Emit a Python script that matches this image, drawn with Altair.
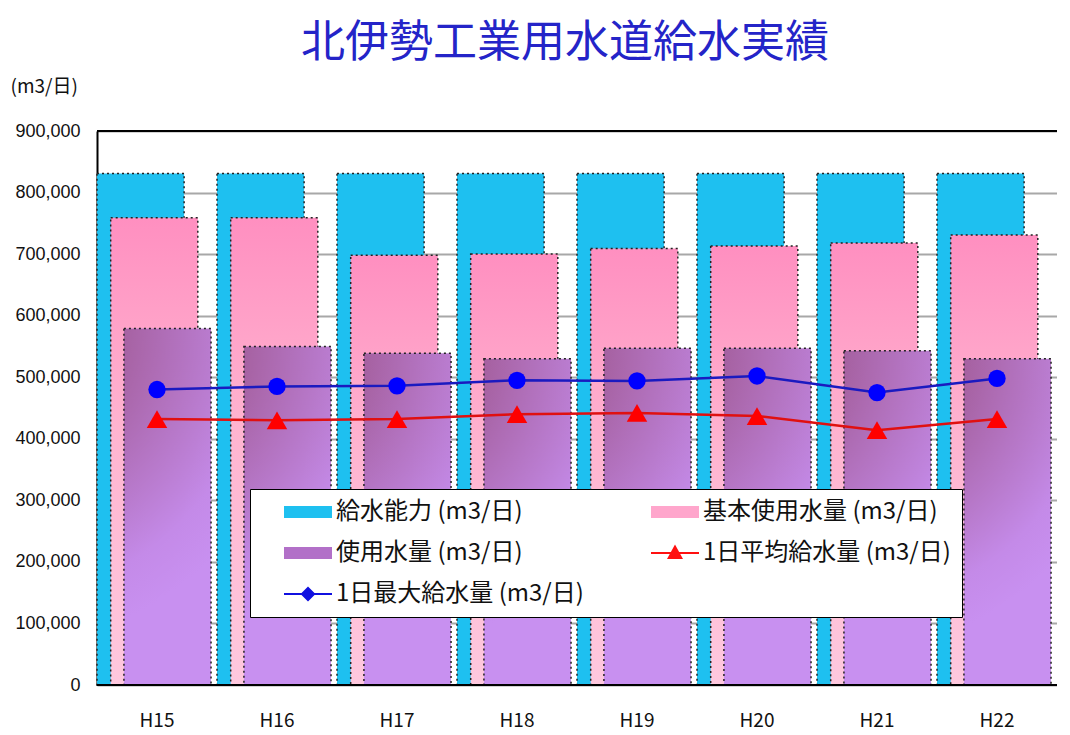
import altair as alt
import pandas as pd

# ---- data ----
years = ["H15", "H16", "H17", "H18", "H19", "H20", "H21", "H22"]
capacity = [831000, 831000, 831000, 831000, 831000, 831000, 831000, 831000]
base_use = [759000, 759000, 698000, 700000, 709000, 713000, 718000, 731000]
used = [579000, 550000, 539000, 530000, 547000, 547000, 543000, 530000]
daily_max = [480000, 485000, 486000, 495000, 494000, 502000, 475000, 498000]
daily_avg = [432000, 430000, 432000, 440000, 442000, 437000, 414000, 432000]
y_ticks = [0, 100000, 200000, 300000, 400000, 500000, 600000, 700000, 800000, 900000]

# legend entries (column-major: left column first, then right column)
series = ["給水能力 (m3/日)", "使用水量 (m3/日)", "1日最大給水量 (m3/日)",
          "基本使用水量 (m3/日)", "1日平均給水量 (m3/日)"]
series_colors = ["#1ec0f0", "#b270c8", "#1010e0", "#ffa6cc", "#ff1010"]

df = pd.DataFrame({"year": years, "capacity": capacity, "base": base_use,
                   "used": used, "dmax": daily_max, "davg": daily_avg})
legend_df = pd.DataFrame({"series": series, "year": [years[0]] * len(series),
                          "v": [None] * len(series)})

# ---- layout ----
W, H = 960, 554
BW = W / len(years)
BAR_FRAC = 89 / 122.6
shift = (BW - BW * BAR_FRAC) / 2
off_cyan = 0 - shift
off_pink = 14 / 122.6 * BW - shift
off_purple = 27.5 / 122.6 * BW - shift

FONT = "Noto Sans CJK JP"

x_enc = alt.X("year:N", sort=years,
              scale=alt.Scale(domain=years, paddingInner=0, paddingOuter=0),
              axis=alt.Axis(title=None, labelAngle=0, ticks=False, domain=False,
                            labelPadding=26, labelFontSize=19, labelFont=FONT,
                            labelColor="#111", grid=False))
y_axis = alt.Axis(values=y_ticks, labelExpr="format(datum.value, ',')",
                  title="(m3/日)", titleAngle=0,
                  titleX=-87, titleY=-45, titleAlign="left", titleBaseline="middle",
                  titleFont=FONT, titleFontSize=19, titleFontWeight="normal",
                  titleColor="#111", grid=True, gridColor="#a8a8a8", gridWidth=2,
                  domainColor="black", domainWidth=2, ticks=False, labelPadding=17,
                  labelFontSize=18, labelFont="Liberation Sans", labelColor="#111")
y_scale = alt.Scale(domain=[0, 900000], nice=False)

def y_enc(field):
    return alt.Y(f"{field}:Q", scale=y_scale, axis=y_axis)

pink_grad = alt.Gradient(gradient="linear",
                         stops=[alt.GradientStop(color="#ff8fc0", offset=0),
                                alt.GradientStop(color="#ffb4d0", offset=0.45),
                                alt.GradientStop(color="#ffc8de", offset=1)],
                         x1=0, y1=0, x2=0, y2=1)
purple_grad = alt.Gradient(gradient="radial",
                           stops=[alt.GradientStop(color="#76264f", offset=0),
                                  alt.GradientStop(color="#a5609f", offset=0.4),
                                  alt.GradientStop(color="#c48ae8", offset=0.85),
                                  alt.GradientStop(color="#c890f0", offset=1)],
                           x1=0, y1=0, r1=0, x2=0, y2=0, r2=0.9)

border = dict(stroke="#222", strokeWidth=1.5, strokeDash=[2, 3])

base = alt.Chart(df)

cyan = base.mark_bar(width=alt.RelativeBandSize(BAR_FRAC), xOffset=off_cyan,
                     color="#1ec0f0", **border).encode(x=x_enc, y=y_enc("capacity"))
pink = base.mark_bar(width=alt.RelativeBandSize(BAR_FRAC), xOffset=off_pink,
                     fill=pink_grad, **border).encode(x=x_enc, y=y_enc("base"))
purple = base.mark_bar(width=alt.RelativeBandSize(BAR_FRAC), xOffset=off_purple,
                       fill=purple_grad, **border).encode(x=x_enc, y=y_enc("used"))

max_line = base.mark_line(color="#1a1ac0", strokeWidth=2.5).encode(x=x_enc, y=y_enc("dmax"))
max_pts = base.mark_point(shape="circle", filled=True, size=300, color="#0000ff",
                          opacity=1).encode(x=x_enc, y=y_enc("dmax"))
avg_line = base.mark_line(color="#e01010", strokeWidth=2.5).encode(x=x_enc, y=y_enc("davg"))
avg_pts = base.mark_point(shape="triangle-up", filled=True, size=420, color="#ff0000",
                          opacity=1).encode(x=x_enc, y=y_enc("davg"))

frame = alt.Chart(pd.DataFrame({"v": [0, 900000]})).mark_rule(
    color="black", strokeWidth=2).encode(y=y_enc("v"))

bar_path = "M-2.4,-0.6H2.4V0.6H-2.4Z"
tri_path = "M-2.4,-0.1H2.4V0.1H-2.4Z M0,-0.85L0.8,0.6H-0.8Z"
dia_path = "M-2.4,-0.1H2.4V0.1H-2.4Z M0,-0.75L0.75,0L0,0.75L-0.75,0Z"

leg = alt.Legend(title=None, orient="none", legendX=153, legendY=358, columns=2,
                 fillColor="white", strokeColor="black", padding=11,
                 symbolSize=400, symbolOffset=35, labelOffset=16, symbolStrokeWidth=0,
                 labelFont=FONT, labelFontSize=24, labelColor="#111", labelLimit=0,
                 rowPadding=17, columnPadding=44, symbolOpacity=1)

legend_layer = alt.Chart(legend_df).mark_point(filled=True).encode(
    x=x_enc,
    y=y_enc("v"),
    color=alt.Color("series:N", scale=alt.Scale(domain=series, range=series_colors),
                    legend=leg),
    shape=alt.Shape("series:N", scale=alt.Scale(domain=series,
                    range=[bar_path, bar_path, dia_path, bar_path, tri_path]),
                    legend=leg),
)

chart = alt.layer(cyan, pink, purple, max_line, avg_line, max_pts, avg_pts, frame,
                  legend_layer).properties(
    width=W, height=H,
    title=alt.Title("北伊勢工業用水道給水実績", fontSize=44, color="#2424c8", font=FONT,
                    fontWeight="normal", anchor="middle", frame="group", dx=-12, offset=11),
    padding={"left": 89, "top": 123, "right": 0, "bottom": 50},
    autosize=alt.AutoSizeParams(type="none"),
).configure_view(stroke=None)

chart.save("out.html", embed_options={"renderer": "svg", "actions": False})
